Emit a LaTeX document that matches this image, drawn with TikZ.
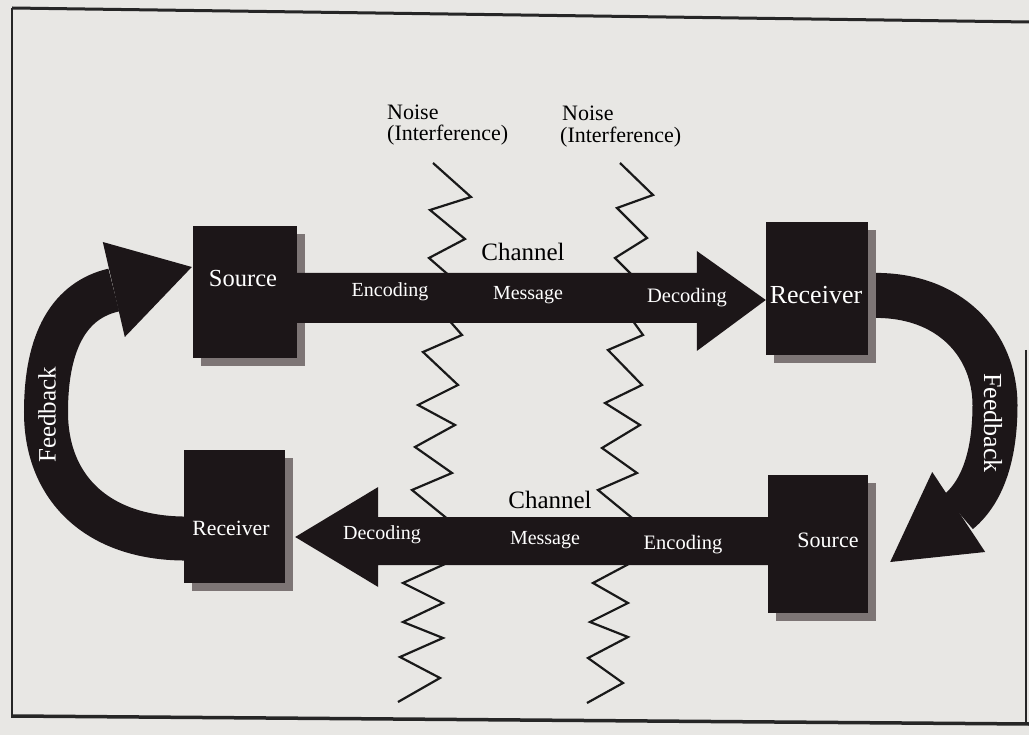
\documentclass[tikz,border=0pt]{standalone}
\usepackage{fontspec}
\setmainfont{Liberation Serif}
\usetikzlibrary{calc,shadows}
\definecolor{ink}{RGB}{28,22,24}
\definecolor{paper}{RGB}{232,231,228}
\definecolor{shade}{RGB}{125,117,117}
\newcommand\fsz[1]{\fontsize{#1}{#1}\selectfont}
\begin{document}
\begin{tikzpicture}[x=1pt,y=-1pt,
  blk/.style={fill=ink, draw=none, inner sep=0pt,
    drop shadow={shadow xshift=8pt, shadow yshift=-8pt, fill=shade, opacity=1}},
  wlabel/.style={text=white, inner sep=0pt, font=\fsz{#1}},
  klabel/.style={text=black, inner sep=0pt, font=\fsz{#1}},
  noise/.style={draw=black!90, line width=2.2pt, line join=miter},
  band/.style={draw=ink, line width=#1pt},
  frame/.style={draw=black!85, line width=#1pt}]
\fill[paper] (0,0) rectangle (1029,735);
\useasboundingbox (0,0) rectangle (1029,735);
% frame
\draw[frame=3] (12,8) -- (1029,22);
\draw[frame=2] (12,8) -- (12,718);
\draw[frame=3.5] (12,716) -- (1029,724);
\draw[frame=1.5] (1026,350) -- (1026,723);
% noise zigzags
\draw[noise] (433,163) -- (471,197) -- (430,210) -- (465,239) -- (429,258) -- (460,285) -- (440,310) -- (462,335) -- (423,352) -- (458,385) -- (418,405) -- (455,425) -- (415,447) -- (452,473) -- (412,490) -- (455,525) -- (428,545) -- (456,559) -- (403,583) -- (443,603) -- (403,622) -- (443,638) -- (400,657) -- (440,678) -- (398,702);
\draw[noise] (620,163) -- (653,195) -- (617,208) -- (647,238) -- (615,258) -- (645,288) -- (625,310) -- (643,335) -- (608,350) -- (642,385) -- (605,403) -- (640,425) -- (602,448) -- (637,473) -- (598,490) -- (637,522) -- (615,543) -- (640,558) -- (593,583) -- (628,603) -- (590,622) -- (628,637) -- (588,658) -- (623,683) -- (587,703);
% boxes
\node[blk, minimum width=104pt, minimum height=132pt] (src1) at (245,292) {};
\node[blk, minimum width=101pt, minimum height=133pt] (rcv2) at (234.5,516.5) {};
\node[blk, minimum width=102pt, minimum height=133pt] (rcv1) at (817,288.5) {};
\node[blk, minimum width=100pt, minimum height=138pt] (src2) at (818,544) {};
% feedback left (receiver -> source)
\coordinate (fl0) at ($(rcv2.west)+(6,22)$);
\coordinate (flb) at ($(src1.west)+(-79,-2)$);
\begin{scope}[on background layer/.style={}]
\end{scope}
\draw[band=44] (fl0) .. controls (100,540) and (46,490) .. (46,412) .. controls (46,340) and (70,300) .. (flb);
\fill[ink] ($(src1.west)+(-90,-50)$) -- ($(src1.west)+(-1,-25)$) -- ($(src1.west)+(-68,45)$) -- cycle;
% feedback right (receiver -> source)
\coordinate (fr0) at ($(rcv1.east)+(2,7)$);
\coordinate (frb) at ($(src2.east)+(90,-32)$);
\draw[band=45] (fr0) .. controls (950,293) and (995,345) .. (995,405) .. controls (995,450) and (985,490) .. (frb);
\fill[ink] ($(src2.east)+(64,-72)$) -- ($(src2.east)+(22,18)$) -- ($(src2.east)+(117,8)$) -- cycle;
% redraw boxes over bands
\node[blk, minimum width=102pt, minimum height=133pt] at (rcv1) {};
\node[blk, minimum width=101pt, minimum height=133pt] at (rcv2) {};
% top channel arrow: source -> receiver
\coordinate (t0) at ($(src1.east)+(-2,6)$);
\coordinate (ta) at (rcv1.west |- t0);
\fill[ink] ($(t0)+(0,-25)$) -- ($(ta)+(-69,-25)$) -- ($(ta)+(-69,-47)$) -- ($(ta)+(0,2)$) -- ($(ta)+(-69,53)$) -- ($(ta)+(-69,25)$) -- ($(t0)+(0,25)$) -- cycle;
% bottom channel arrow: source -> receiver
\coordinate (b0) at ($(src2.west)+(2,-3)$);
\coordinate (ba) at ($(rcv2.east)+(10,0)$);
\coordinate (bb) at (ba |- b0);
\fill[ink] ($(b0)+(0,-24)$) -- ($(bb)+(83,-24)$) -- ($(bb)+(83,-54)$) -- ($(bb)+(0,-4)$) -- ($(bb)+(83,46)$) -- ($(bb)+(83,24)$) -- ($(b0)+(0,24)$) -- cycle;
% labels
\node[klabel=22, anchor=west] (noise1) at (387,112) {Noise};
\node[klabel=22, anchor=west] (intf1) at (387,135) {(Interference)};
\node[klabel=22, anchor=west] (noise2) at (562,113) {Noise};
\node[klabel=22, anchor=west] (intf2) at (560,137) {(Interference)};
\node[klabel=25] (chan1) at (523,252) {Channel};
\node[klabel=25] (chan2) at (550,500) {Channel};
\node[wlabel=20] (enc1) at (390,292) {Encoding};
\node[wlabel=20] (msg1) at (528,295) {Message};
\node[wlabel=20.5] (dec1) at (687,298) {Decoding};
\node[wlabel=20] (dec2) at (382,535) {Decoding};
\node[wlabel=20] (msg2) at (545,540) {Message};
\node[wlabel=20.5] (enc2) at (683,545) {Encoding};
\node[wlabel=24.5] (srct1) at (243,279) {Source};
\node[wlabel=26] (rcvt1) at (816,295) {Receiver};
\node[wlabel=21.7] (rcvt2) at (231,528) {Receiver};
\node[wlabel=22] (srct2) at (828,540) {Source};
\node[wlabel=25, rotate=90] (fbl) at (47,415) {Feedback};
\node[wlabel=26, rotate=-90] (fbr) at (993,423) {Feedback};
\end{tikzpicture}
\end{document}
